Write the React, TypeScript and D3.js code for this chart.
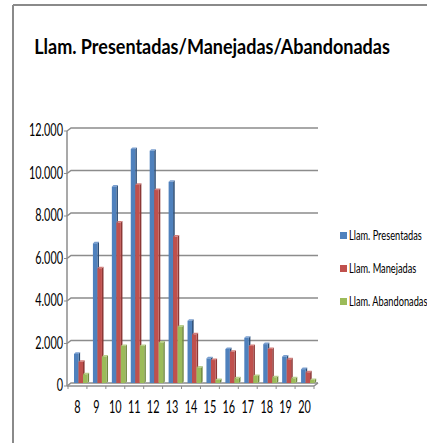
import React from "react";
import * as d3 from "d3";

const categories = ["8", "9", "10", "11", "12", "13", "14", "15", "16", "17", "18", "19", "20"];
const presentadas = [1370, 6570, 9240, 11010, 10930, 9470, 2930, 1160, 1600, 2130, 1830, 1240, 650];
const manejadas = [1000, 5400, 7550, 9320, 9080, 6890, 2290, 1080, 1470, 1740, 1600, 1110, 500];
const abandonadas = [410, 1240, 1740, 1740, 1900, 2650, 720, 140, 220, 330, 270, 220, 140];
const seriesNames = ["Llam. Presentadas", "Llam. Manejadas", "Llam. Abandonadas"];
const yTicks = [0, 2000, 4000, 6000, 8000, 10000, 12000];
const title = "Llam. Presentadas/Manejadas/Abandonadas";

const front = ["#4F81BD", "#C0504D", "#9BBB59"];
const side = ["#2C4D75", "#8C3836", "#71893F"];
const topFace = ["#7A9FD0", "#D47C79", "#B8D08A"];

const W = 427;
const H = 443;
const axisX = 67;
const depth = { dx: 4, dy: -3 };
const plotRight = 318;
const slot0 = 68;
const slotEnd = 314;

const fmt = (v: number) => (v === 0 ? "0" : d3.format(",")(v).replace(/,/g, "."));

export default function App() {
  const y = d3.scaleLinear().domain([0, 12000]).range([383, 128]);
  const slot = d3.scaleBand<string>().domain(categories).range([slot0, slotEnd]).padding(0);
  const step = slot.step();
  const inner = d3.scaleBand<number>().domain([0, 1, 2]).range([6, 6 + 13.5]).padding(0);
  const bw = inner.bandwidth();
  const d = 1.6;
  const series = [presentadas, manejadas, abandonadas];
  const base = y(0);

  const font = "Lato, 'Open Sans', sans-serif";

  return (
    <svg width={W} height={H} style={{ position: "absolute", left: 0, top: 0, background: "#fff" }}>
      {/* frame */}
      <line x1={13} y1={5} x2={427} y2={5} stroke="#8A8A8A" strokeWidth={2} />
      <line x1={13} y1={5} x2={13} y2={443} stroke="#8A8A8A" strokeWidth={2} />

      <text
        transform="translate(212,54) scale(0.9,1)"
        textAnchor="middle"
        fontFamily={font}
        fontWeight={700}
        fontSize={20}
        fill="#000"
      >
        {title}
      </text>

      {/* back wall gridlines */}
      {yTicks.map((t) => (
        <g key={t}>
          <polyline
            points={`${axisX},${y(t) - depth.dy} ${axisX + depth.dx},${y(t)} ${plotRight},${y(t)}`}
            fill="none"
            stroke="#8C8C8C"
            strokeWidth={1.5}
          />
          <line x1={axisX - 3} x2={axisX} y1={y(t) - depth.dy} y2={y(t) - depth.dy} stroke="#8C8C8C" strokeWidth={1} />
          <text
            transform={`translate(63,${y(t) - depth.dy + 5}) scale(0.64,1)`}
            textAnchor="end"
            fontFamily={font}
            fontSize={17}
            fill="#000"
          >
            {fmt(t)}
          </text>
        </g>
      ))}

      {/* value axis */}
      <line x1={axisX} x2={axisX} y1={y(12000) - depth.dy} y2={base - depth.dy} stroke="#8C8C8C" strokeWidth={1.5} />

      {/* floor */}
      <line x1={axisX} x2={slotEnd} y1={base - depth.dy} y2={base - depth.dy} stroke="#8C8C8C" strokeWidth={1.5} />
      <line x1={slotEnd} x2={slotEnd + depth.dx} y1={base - depth.dy} y2={base} stroke="#8C8C8C" strokeWidth={1.5} />

      {categories.map((c, i) => {
        const sx = slot(c)!;
        return (
          <g key={c}>
            <line x1={sx} x2={sx} y1={base - depth.dy} y2={base - depth.dy + 3} stroke="#8C8C8C" strokeWidth={1} />
            {series.map((vals, s) => {
              const x0 = sx + inner(s)!;
              const yt = y(vals[i]);
              return (
                <g key={s}>
                  <polygon
                    points={`${x0 + bw},${yt} ${x0 + bw + d},${yt - d} ${x0 + bw + d},${base - d} ${x0 + bw},${base}`}
                    fill={side[s]}
                  />
                  <polygon
                    points={`${x0},${yt} ${x0 + d},${yt - d} ${x0 + bw + d},${yt - d} ${x0 + bw},${yt}`}
                    fill={topFace[s]}
                  />
                  <rect x={x0} y={yt} width={bw} height={base - yt} fill={front[s]} />
                </g>
              );
            })}
            <text
              transform={`translate(${sx + step / 2},${413}) scale(0.64,1)`}
              textAnchor="middle"
              fontFamily={font}
              fontSize={17}
              fill="#000"
            >
              {c}
            </text>
          </g>
        );
      })}
      <line x1={slotEnd} x2={slotEnd} y1={base - depth.dy} y2={base - depth.dy + 3} stroke="#8C8C8C" strokeWidth={1} />

      {/* legend */}
      {seriesNames.map((n, s) => {
        const ly = 236 + s * 33;
        return (
          <g key={n}>
            <rect x={340} y={ly - 4} width={7} height={7} fill={front[s]} />
            <text
              transform={`translate(349,${ly + 4}) scale(0.66,1)`}
              fontFamily={font}
              fontSize={14}
              fill="#000"
            >
              {n}
            </text>
          </g>
        );
      })}
    </svg>
  );
}
